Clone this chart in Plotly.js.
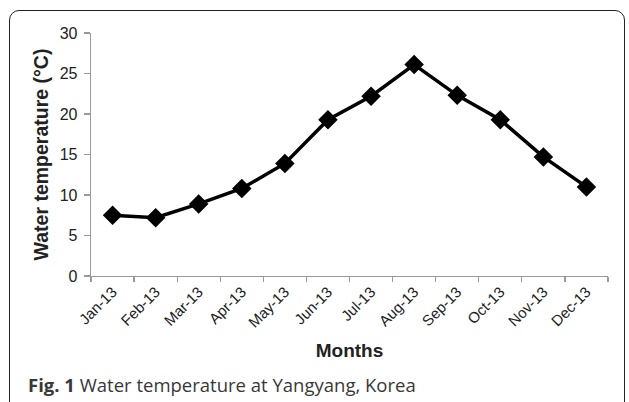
<!DOCTYPE html>
<html>
<head>
<meta charset="utf-8">
<script src="https://cdn.plot.ly/plotly-3.0.1.min.js"></script>
<style>
  html, body { margin: 0; padding: 0; background: #fff; }
  #wrap { position: relative; width: 629px; height: 402px; overflow: hidden; }
  #frame { position: absolute; left: 9px; top: 10px; width: 616px; height: 410px;
           border: 1.6px solid #222; border-radius: 10px; box-sizing: border-box; }
  #chart { position: absolute; left: 0; top: 0; width: 629px; height: 402px; }
</style>
</head>
<body>
<div id="wrap">
  <div id="frame"></div>
  <div id="chart"></div>
</div>
<script>
const months = ["Jan-13","Feb-13","Mar-13","Apr-13","May-13","Jun-13","Jul-13","Aug-13","Sep-13","Oct-13","Nov-13","Dec-13"];
const waterTemp = [7.5, 7.2, 8.9, 10.8, 13.9, 19.3, 22.2, 26.1, 22.3, 19.3, 14.7, 11.0];
const yTicks = [0, 5, 10, 15, 20, 25, 30];

const trace = {
  x: months,
  y: waterTemp,
  type: 'scatter',
  mode: 'lines+markers',
  line: { color: '#000', width: 3.5 },
  marker: { symbol: 'diamond', size: 15, color: '#000' },
  hoverinfo: 'x+y'
};

const layout = {
  width: 629, height: 402,
  margin: { l: 91, r: 21, t: 33, b: 126 },
  paper_bgcolor: 'rgba(0,0,0,0)',
  plot_bgcolor: 'rgba(0,0,0,0)',
  showlegend: false,
  font: { family: 'Liberation Sans, Arial, sans-serif', color: '#222' },
  xaxis: {
    type: 'category',
    range: [-0.5, months.length - 0.5],
    showline: true, linecolor: '#999', linewidth: 1.3,
    ticks: 'outside', tickson: 'boundaries', ticklen: 5, tickcolor: '#999', tickwidth: 1.3,
    tickangle: -45,
    tickfont: { size: 15, color: '#222' },
    showgrid: false, zeroline: false,
    title: { text: '<b>Months</b>', font: { size: 19, color: '#222' }, standoff: 14 }
  },
  yaxis: {
    range: [0, 30],
    tickvals: yTicks,
    showline: true, linecolor: '#999', linewidth: 1.3,
    ticks: 'outside', ticklen: 6, tickcolor: '#999', tickwidth: 1.3,
    ticklabelstandoff: 3,
    tickfont: { size: 16, color: '#222' },
    showgrid: false, zeroline: false,
    title: { text: '<b>Water temperature (°C)</b>', font: { size: 19.5, color: '#222' }, standoff: 6 }
  },
  annotations: [{
    xref: 'paper', yref: 'paper',
    x: -0.126, y: -0.445,
    xanchor: 'left', yanchor: 'middle',
    showarrow: false,
    text: '<b>Fig. 1</b> Water temperature at Yangyang, Korea',
    font: { family: 'Open Sans, Noto Sans, sans-serif', size: 18.5, color: '#383838' }
  }]
};

Plotly.newPlot('chart', [trace], layout, { displayModeBar: false, staticPlot: true });
</script>
</body>
</html>
